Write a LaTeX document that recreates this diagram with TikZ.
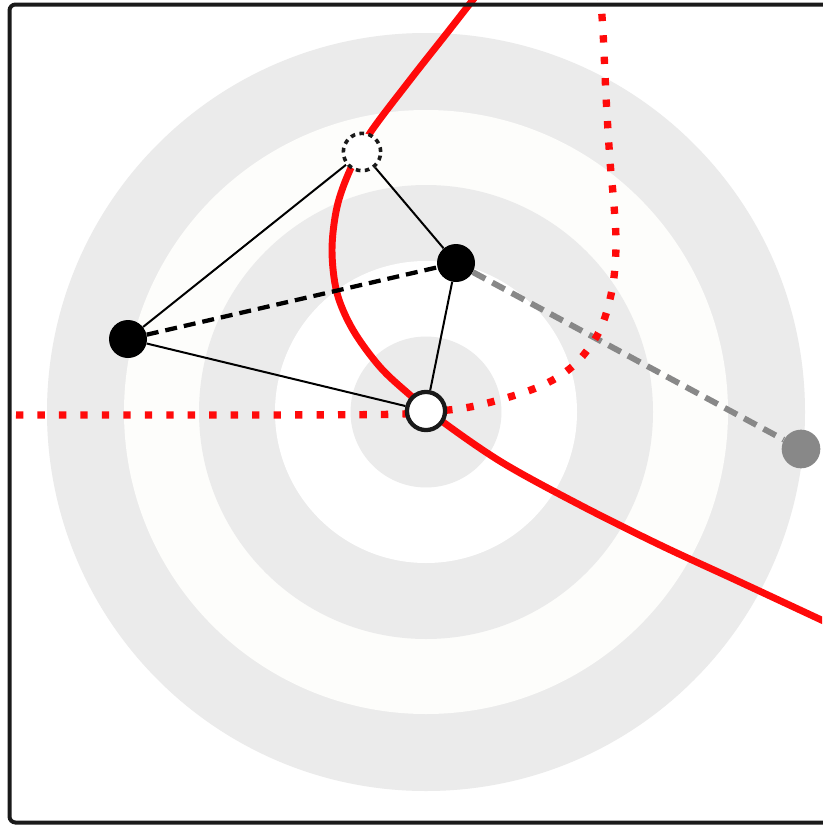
\documentclass[tikz,border=0pt]{standalone}
\pgfdeclarelayer{under}
\pgfsetlayers{under,main}
\definecolor{ringgray}{RGB}{235,235,235}
\definecolor{ringwhite}{RGB}{253,253,251}
\definecolor{framecol}{RGB}{26,26,26}
\definecolor{redc}{RGB}{255,10,10}
\definecolor{grayn}{RGB}{136,136,136}
\tikzset{
  blk/.style={circle,fill=black,inner sep=0pt,minimum size=28.5pt},
  ghost/.style={circle,draw=framecol,fill=white,line width=2.7pt,dash pattern=on 3.5pt off 3.3pt,inner sep=0pt,minimum size=28pt},
  hub/.style={circle,draw=framecol,fill=white,line width=3.2pt,inner sep=0pt,minimum size=28.6pt},
  grey/.style={circle,fill=grayn,inner sep=0pt,minimum size=29pt},
  thin/.style={draw=black,line width=1.5pt},
  bdash/.style={draw=black,line width=3.2pt,dash pattern=on 9pt off 5.25pt},
  gdash/.style={draw=grayn,line width=4.4pt,dash pattern=on 10.5pt off 6pt},
  redsolid/.style={draw=redc,line width=5.2pt},
  reddot/.style={draw=redc,line width=5.5pt,dash pattern=on 5.5pt off 10.6pt},
}
\begin{document}
\begin{tikzpicture}[x=0.75pt,y=-0.75pt]
\useasboundingbox (0,0) rectangle (822,828);
% nodes
\node[blk] (a) at (128,339) {};
\node[blk] (b) at (456,263) {};
\node[ghost] (g) at (362,152) {};
\node[hub] (c) at (426,411) {};
\node[grey] (d) at (801,449) {};
\begin{pgfonlayer}{under}
\begin{scope}
\clip (0,0) rectangle (822,828);
\fill[white] (0,0) rectangle (822,828);
\fill[ringgray] (426,412) circle[radius=284.25pt];
\fill[ringwhite] (426,412) circle[radius=226.5pt];
\fill[ringgray] (426,412) circle[radius=170.25pt];
\fill[white] (426,412) circle[radius=113.25pt];
\fill[ringgray] (426,412) circle[radius=56.6pt];
% grey dashed connector
\draw[gdash] (b) -- (d);
% red curves
\draw[reddot] plot[smooth,tension=0.55] coordinates {(16,415) (200,415) (380,414.5) (426,412) (475,406) (536,388) (573,366) (599,332) (612,290) (616,247) (614,205) (610,161) (606,96) (603,31) (600,-8)};
\draw[redsolid] plot[smooth,tension=0.55] coordinates {(479,-8) (447,33) (410,80) (370,133) (350,170) (337,207) (332,250) (337,293) (353,330) (380,367) (410,395) (443,422) (503,463) (580,505) (660,545) (740,582) (845,631)};
% black connectors
\draw[thin] (g) -- (a);
\draw[thin] (g) -- (b);
\draw[thin] (a) -- (c);
\draw[thin] (b) -- (c);
\draw[bdash] (a) -- (b);
\end{scope}
\end{pgfonlayer}
% frame
\draw[framecol,line width=3pt,rounded corners=4.5pt] (9.5,4.5) rectangle (840,822.5);
\end{tikzpicture}
\end{document}
